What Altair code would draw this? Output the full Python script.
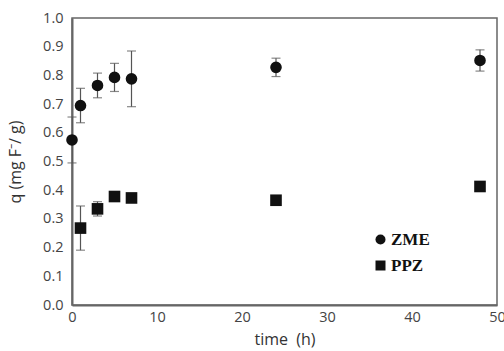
import altair as alt
import pandas as pd

# ZME series
zme_t = [0, 1, 3, 5, 7, 24, 48]
zme_q = [0.575, 0.695, 0.765, 0.793, 0.788, 0.828, 0.852]
zme_err = [0.08, 0.06, 0.043, 0.049, 0.097, 0.032, 0.037]

# PPZ series
ppz_t = [1, 3, 5, 7, 24, 48]
ppz_q = [0.268, 0.335, 0.378, 0.373, 0.365, 0.413]
ppz_err = [0.077, 0.025, 0.0, 0.0, 0.0, 0.0]

# tick labels
y_ticks = [0.0, 0.1, 0.2, 0.3, 0.4, 0.5, 0.6, 0.7, 0.8, 0.9, 1.0]
x_ticks = [0, 10, 20, 30, 40, 50]

rows = []
for t, q, e in zip(zme_t, zme_q, zme_err):
    rows.append({"t": t, "q": q, "lo": q - e, "hi": q + e, "s": "ZME", "e": e})
for t, q, e in zip(ppz_t, ppz_q, ppz_err):
    rows.append({"t": t, "q": q, "lo": q - e, "hi": q + e, "s": "PPZ", "e": e})
df = pd.DataFrame(rows)

xs = alt.Scale(domain=[0, 50], nice=False)
ys = alt.Scale(domain=[0, 1.0], nice=False)

xaxis = alt.Axis(values=x_ticks, ticks=False, labelPadding=5, titlePadding=8,
                 labelOverlap=False, labelFlush=False)
yaxis = alt.Axis(values=y_ticks, format=".1f", ticks=False, labelPadding=9,
                 titlePadding=19, labelOverlap=False, labelFlush=False)
xtitle = "time\u00a0\u00a0(h)"
ytitle = "q (mg F⁻/ g)"


def X():
    return alt.X("t:Q", scale=xs, axis=xaxis, title=xtitle)


def Y(field):
    return alt.Y(field, scale=ys, axis=yaxis, title=ytitle)


base = alt.Chart(df)
errdf = base.transform_filter("datum.e > 0")

rule = errdf.mark_rule(color="#555", strokeWidth=1.2, clip=True).encode(
    x=X(), y=Y("lo:Q"), y2="hi:Q"
)
cap_hi = errdf.mark_tick(color="#555", orient="horizontal", size=9, thickness=1.2).encode(
    x=X(), y=Y("hi:Q")
)
cap_lo = errdf.transform_filter("datum.lo > 0.01").mark_tick(
    color="#555", orient="horizontal", size=9, thickness=1.2
).encode(x=X(), y=Y("lo:Q"))

pts = base.mark_point(filled=True, opacity=1, color="#111", size=135).encode(
    x=X(),
    y=Y("q:Q"),
    shape=alt.Shape(
        "s:N",
        scale=alt.Scale(domain=["ZME", "PPZ"], range=["circle", "square"]),
        legend=alt.Legend(
            title=None,
            orient="none",
            legendX=300,
            legendY=213,
            labelFont="Liberation Serif",
            labelFontWeight="bold",
            labelFontSize=17,
            labelColor="#111",
            symbolFillColor="#111",
            symbolStrokeColor="#111",
            symbolSize=100,
            rowPadding=8,
            labelOffset=2,
            padding=0,
        ),
    ),
)

chart = (
    alt.layer(rule, cap_hi, cap_lo, pts)
    .properties(
        width=425,
        height=287,
        autosize=alt.AutoSizeParams(type="none"),
        padding={"left": 72, "top": 18, "right": 7, "bottom": 46},
        background="white",
    )
    .configure_view(stroke="#666", strokeWidth=1.5)
    .configure_axis(
        grid=False,
        domainColor="#666",
        domainWidth=2,
        labelFont="Open Sans",
        labelFontSize=14.5,
        labelColor="#444",
        titleFont="Open Sans",
        titleFontSize=16,
        titleFontWeight="normal",
        titleColor="#333",
    )
)

chart.save("out.html", embed_options={"renderer": "svg", "actions": False})
